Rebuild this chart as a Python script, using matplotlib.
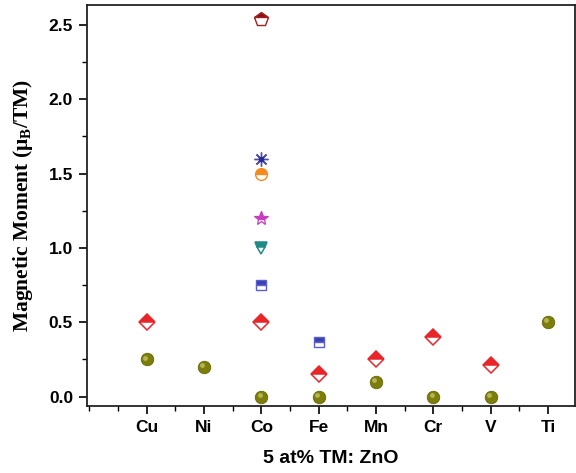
import matplotlib
matplotlib.use("Agg")
import matplotlib.pyplot as plt
import matplotlib.transforms as mtransforms
from matplotlib.ticker import MultipleLocator, FixedLocator

plt.rcParams["mathtext.fontset"] = "custom"
plt.rcParams["mathtext.rm"] = "Liberation Serif"
plt.rcParams["mathtext.bf"] = "Liberation Serif:bold"
plt.rcParams["mathtext.it"] = "Liberation Serif:italic"

categories = ["Cu", "Ni", "Co", "Fe", "Mn", "Cr", "V", "Ti"]

# olive spheres
ball_cats = ["Cu", "Ni", "Co", "Fe", "Mn", "Cr", "V", "Ti"]
ball_vals = [0.25, 0.20, 0.0, 0.0, 0.10, 0.0, 0.0, 0.50]
# red half-filled diamonds
diam_cats = ["Cu", "Co", "Fe", "Mn", "Cr", "V"]
diam_vals = [0.50, 0.50, 0.15, 0.25, 0.40, 0.21]
# blue half-filled squares
sq_cats = ["Co", "Fe"]
sq_vals = [0.75, 0.37]
# single Co reports
tri_val = 1.0
star_val = 1.2
circ_val = 1.5
ast_val = 1.6
pent_val = 2.54

pos = {c: i + 1 for i, c in enumerate(categories)}

fig = plt.figure(figsize=(5.76, 4.73), dpi=100)
ax = fig.add_axes([0.151, 0.1416, 0.847, 0.848])

# diamonds
ax.plot([pos[c] for c in diam_cats], diam_vals, ls="none", marker="D", ms=8.2,
        fillstyle="top", color="#e8262a", markerfacecoloralt="white",
        markeredgecolor="#e8262a", mew=1.1, zorder=3)
# squares
ax.plot([pos[c] for c in sq_cats], sq_vals, ls="none", marker="s", ms=7,
        fillstyle="top", color="#3a3fb0", markerfacecoloralt="white",
        markeredgecolor="#5a5fd0", mew=1.0, zorder=3)
# triangle
ax.plot([pos["Co"]], [tri_val], ls="none", marker="v", ms=9,
        fillstyle="top", color="#1f8a86", markerfacecoloralt="white",
        markeredgecolor="#1f8a86", mew=1.1, zorder=3)
# star
ax.plot([pos["Co"]], [star_val], ls="none", marker="*", ms=10.5,
        fillstyle="top", color="#c83cc0", markerfacecoloralt="white",
        markeredgecolor="#c83cc0", mew=0.9, zorder=3)
# half circle
ax.plot([pos["Co"]], [circ_val], ls="none", marker="o", ms=8.5,
        fillstyle="top", color="#f58a1f", markerfacecoloralt="white",
        markeredgecolor="#f58a1f", mew=1.0, zorder=3)
# asterisk
ax.plot([pos["Co"]], [ast_val], ls="none", marker=(8, 2, 0), ms=10,
        color="#5050b0", mew=1.0, zorder=3)
ax.plot([pos["Co"]], [ast_val], ls="none", marker="o", ms=3,
        color="#2a2a90", zorder=4)
# pentagon
ax.plot([pos["Co"]], [pent_val], ls="none", marker="p", ms=10,
        fillstyle="top", color="#8e0e0e", markerfacecoloralt="white",
        markeredgecolor="#a02020", mew=1.0, zorder=3)
# olive spheres with highlight
bx = [pos[c] for c in ball_cats]
ax.plot(bx, ball_vals, ls="none", marker="o", ms=9, color="#7d7d0c",
        markeredgecolor="#66660a", mew=0.6, zorder=3)
hl = mtransforms.offset_copy(ax.transData, fig=fig, x=-1.2, y=1.4, units="points")
ax.plot(bx, ball_vals, ls="none", marker="o", ms=3.5, color="#b4b450",
        markeredgewidth=0, zorder=4, transform=hl)

ax.set_xlim(-0.04, 8.47)
ax.set_ylim(-0.063, 2.635)

ax.xaxis.set_major_locator(FixedLocator([pos[c] for c in categories]))
ax.set_xticklabels(categories)
ax.xaxis.set_minor_locator(MultipleLocator(0.5))
ax.yaxis.set_minor_locator(MultipleLocator(0.25))
ax.set_yticks([0, 0.5, 1.0, 1.5, 2.0, 2.5])
ax.set_yticklabels(["0.0", "0.5", "1.0", "1.5", "2.0", "2.5"])

for lab in ax.get_xticklabels() + ax.get_yticklabels():
    lab.set_fontfamily("Liberation Sans")
    lab.set_fontweight("bold")
    lab.set_fontsize(12.5)

ax.tick_params(which="major", direction="out", length=6, width=1.2,
               top=False, right=False, pad=4)
ax.tick_params(which="minor", direction="out", length=3.5, width=1.0,
               top=False, right=False)
for s in ax.spines.values():
    s.set_linewidth(1.3)
    s.set_color("#222222")

ax.set_xlabel("5 at% TM: ZnO", fontfamily="Liberation Sans",
              fontweight="bold", fontsize=14, labelpad=11)
ax.set_ylabel(r"Magnetic Moment (μ$_\mathbf{B}$/TM)", fontfamily="Liberation Serif",
              fontweight="bold", fontsize=15.5, labelpad=10)

fig.savefig("out.png", dpi=100)
